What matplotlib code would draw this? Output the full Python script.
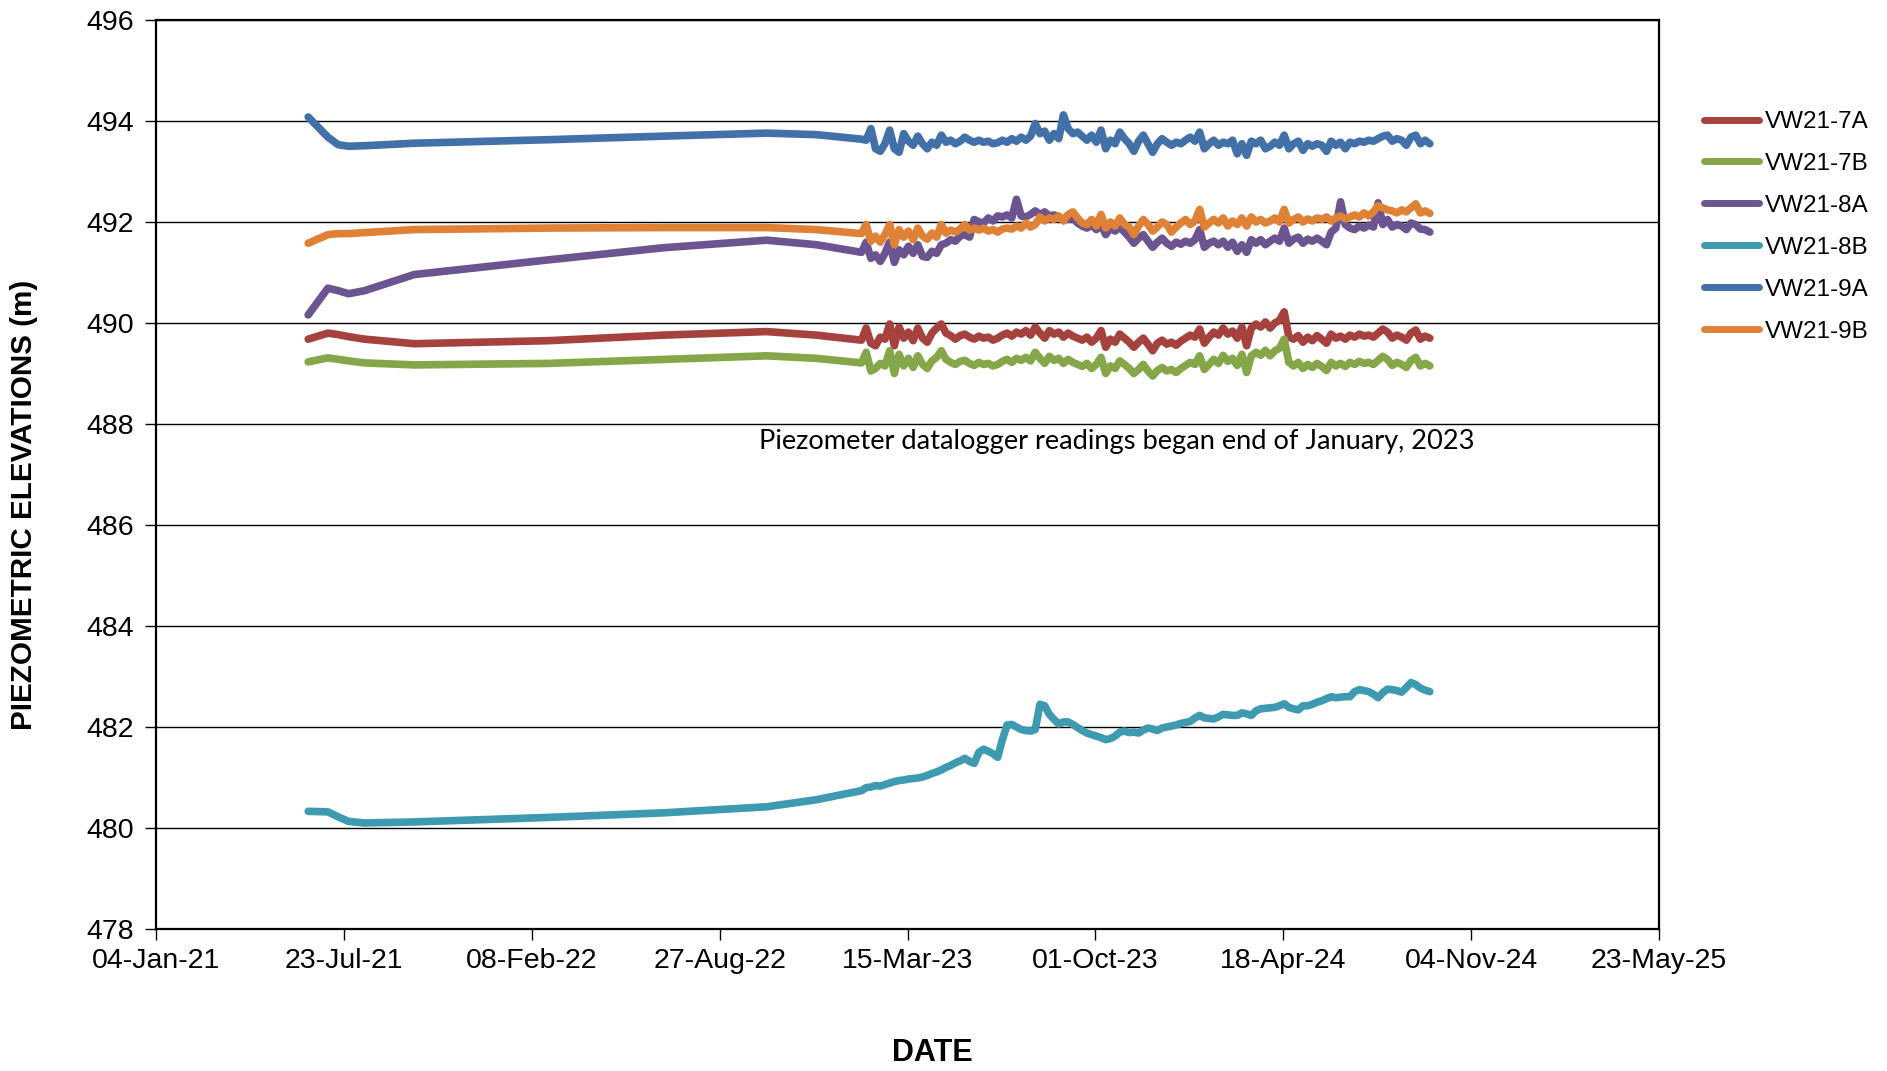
import numpy as np
import pandas as pd
import matplotlib
matplotlib.use("Agg")
import matplotlib.pyplot as plt
import matplotlib.dates as mdates

plt.rcParams['font.family'] = ['Liberation Sans', 'DejaVu Sans']

# ---- data ----
series_names = ["VW21-7A", "VW21-7B", "VW21-8A", "VW21-8B", "VW21-9A", "VW21-9B"]
series_colors = ["#A6423E", "#86A64A", "#6B548F", "#3E9AB1", "#4270A8", "#DF8236"]

# manual readings (before datalogger)
manual_dates = ['2021-06-15', '2021-07-06', '2021-07-17', '2021-07-28', '2021-08-14', '2021-10-06',
                '2022-02-26', '2022-06-28', '2022-10-16', '2022-12-08', '2023-01-25']
manual_7A = [489.68, 489.80, 489.77, 489.73, 489.68, 489.59, 489.65, 489.76, 489.83, 489.76, 489.66]
manual_7B = [489.23, 489.31, 489.28, 489.25, 489.21, 489.17, 489.20, 489.28, 489.35, 489.30, 489.21]
manual_8A = [490.16, 490.69, 490.64, 490.58, 490.64, 490.96, 491.25, 491.49, 491.64, 491.55, 491.40]
manual_8B = [480.33, 480.32, 480.22, 480.13, 480.10, 480.12, 480.21, 480.30, 480.42, 480.56, 480.74]
manual_9A = [494.08, 493.68, 493.53, 493.50, 493.51, 493.56, 493.63, 493.70, 493.76, 493.73, 493.64]
manual_9B = [491.58, 491.75, 491.77, 491.77, 491.79, 491.85, 491.88, 491.89, 491.89, 491.85, 491.77]

# datalogger readings, every 5 days from 2023-01-30 to 2024-09-21
logger_start = '2023-01-30'
logger_step_days = 5

logger_7A = [489.90, 489.60, 489.55, 489.72, 489.68, 489.98, 489.55, 489.92, 489.70, 489.82,
             489.65, 489.90, 489.70, 489.62, 489.80, 489.90, 489.98, 489.80, 489.75, 489.68,
             489.75, 489.78, 489.72, 489.68, 489.74, 489.70, 489.72, 489.66, 489.70, 489.76,
             489.80, 489.74, 489.82, 489.78, 489.85, 489.76, 489.92, 489.80, 489.70, 489.85,
             489.78, 489.82, 489.72, 489.80, 489.74, 489.70, 489.66, 489.72, 489.62, 489.70,
             489.85, 489.52, 489.68, 489.62, 489.78, 489.70, 489.62, 489.52, 489.62, 489.70,
             489.58, 489.45, 489.60, 489.66, 489.58, 489.62, 489.56, 489.64, 489.70, 489.76,
             489.72, 489.88, 489.60, 489.72, 489.82, 489.76, 489.90, 489.78, 489.84, 489.70,
             489.92, 489.55, 489.90, 489.98, 489.92, 490.02, 489.90, 490.00, 490.05, 490.22,
             489.72, 489.68, 489.75, 489.62, 489.72, 489.65, 489.75, 489.68, 489.60, 489.78,
             489.70, 489.74, 489.68, 489.76, 489.72, 489.78, 489.74, 489.76, 489.72, 489.80,
             489.88, 489.82, 489.70, 489.76, 489.72, 489.66, 489.80, 489.86, 489.68, 489.74,
             489.70]
logger_7B = [489.42, 489.05, 489.10, 489.20, 489.15, 489.45, 489.00, 489.38, 489.15, 489.30,
             489.12, 489.35, 489.18, 489.10, 489.25, 489.32, 489.45, 489.28, 489.22, 489.18,
             489.24, 489.26, 489.20, 489.16, 489.22, 489.18, 489.20, 489.15, 489.18, 489.24,
             489.28, 489.22, 489.30, 489.26, 489.32, 489.25, 489.42, 489.30, 489.20, 489.34,
             489.26, 489.30, 489.20, 489.28, 489.22, 489.18, 489.14, 489.20, 489.10, 489.18,
             489.32, 489.00, 489.15, 489.10, 489.25, 489.18, 489.10, 489.00, 489.08, 489.18,
             489.05, 488.95, 489.06, 489.12, 489.05, 489.08, 489.02, 489.10, 489.16, 489.22,
             489.18, 489.35, 489.08, 489.18, 489.28, 489.20, 489.36, 489.24, 489.30, 489.16,
             489.38, 489.02, 489.35, 489.42, 489.36, 489.46, 489.35, 489.45, 489.50, 489.68,
             489.22, 489.15, 489.22, 489.10, 489.18, 489.12, 489.20, 489.14, 489.06, 489.22,
             489.15, 489.20, 489.14, 489.22, 489.18, 489.24, 489.20, 489.22, 489.18, 489.26,
             489.34, 489.28, 489.16, 489.22, 489.18, 489.12, 489.26, 489.32, 489.15, 489.20,
             489.15]
logger_8A = [491.60, 491.28, 491.35, 491.22, 491.38, 491.60, 491.20, 491.45, 491.35, 491.52,
             491.38, 491.55, 491.32, 491.30, 491.42, 491.38, 491.55, 491.58, 491.65, 491.62,
             491.72, 491.75, 491.70, 492.05, 492.00, 491.98, 492.08, 492.02, 492.12, 492.10,
             492.14, 492.08, 492.45, 492.12, 492.10, 492.15, 492.22, 492.15, 492.20, 492.12,
             492.14, 492.10, 492.06, 492.05, 492.08, 491.98, 491.92, 491.88, 491.94, 491.85,
             491.95, 491.75, 491.88, 491.82, 491.90, 491.80, 491.70, 491.58, 491.68, 491.75,
             491.62, 491.50, 491.60, 491.68, 491.58, 491.52, 491.60, 491.56, 491.62, 491.58,
             491.65, 491.85, 491.50, 491.58, 491.62, 491.55, 491.62, 491.50, 491.60, 491.42,
             491.55, 491.40, 491.65, 491.58, 491.65, 491.55, 491.62, 491.68, 491.62, 491.88,
             491.58, 491.66, 491.70, 491.58, 491.66, 491.62, 491.68, 491.62, 491.55, 491.80,
             491.88, 492.40, 491.95, 491.88, 491.85, 491.92, 491.88, 491.94, 491.90, 492.38,
             491.95, 492.05, 491.90, 491.95, 491.92, 491.85, 491.98, 491.95, 491.86, 491.85,
             491.80]
logger_8B = [480.80, 480.81, 480.84, 480.83, 480.86, 480.89, 480.92, 480.94, 480.95, 480.97,
             480.98, 480.99, 481.01, 481.04, 481.08, 481.11, 481.15, 481.20, 481.24, 481.29,
             481.33, 481.38, 481.32, 481.28, 481.50, 481.56, 481.52, 481.47, 481.40, 481.75,
             482.04, 482.05, 482.00, 481.95, 481.93, 481.92, 481.95, 482.45, 482.42, 482.25,
             482.15, 482.06, 482.10, 482.10, 482.05, 481.99, 481.93, 481.88, 481.85, 481.82,
             481.79, 481.75, 481.77, 481.82, 481.90, 481.92, 481.89, 481.90, 481.88, 481.94,
             481.98, 481.96, 481.93, 481.98, 482.00, 482.02, 482.04, 482.07, 482.09, 482.11,
             482.18, 482.23, 482.18, 482.17, 482.16, 482.20, 482.25, 482.24, 482.23, 482.23,
             482.28, 482.26, 482.23, 482.32, 482.36, 482.37, 482.38, 482.39, 482.42, 482.46,
             482.39, 482.36, 482.34, 482.42, 482.42, 482.45, 482.49, 482.52, 482.56, 482.60,
             482.58, 482.59, 482.60, 482.60, 482.70, 482.74, 482.72, 482.70, 482.65, 482.58,
             482.68, 482.75, 482.74, 482.72, 482.69, 482.78, 482.88, 482.84, 482.77, 482.73,
             482.70]
logger_9A = [493.62, 493.85, 493.45, 493.40, 493.55, 493.82, 493.45, 493.38, 493.75, 493.60,
             493.52, 493.70, 493.55, 493.45, 493.58, 493.52, 493.72, 493.58, 493.62, 493.55,
             493.60, 493.68, 493.62, 493.58, 493.62, 493.58, 493.60, 493.55, 493.57, 493.62,
             493.58, 493.65, 493.60, 493.68, 493.62, 493.70, 493.95, 493.75, 493.80, 493.62,
             493.75, 493.65, 494.12, 493.85, 493.75, 493.78, 493.70, 493.62, 493.72, 493.58,
             493.82, 493.45, 493.62, 493.55, 493.78, 493.65, 493.55, 493.40, 493.60, 493.72,
             493.55, 493.38, 493.55, 493.65, 493.58, 493.52, 493.58, 493.55, 493.62, 493.68,
             493.60, 493.78, 493.45, 493.55, 493.62, 493.52, 493.58, 493.55, 493.62, 493.35,
             493.55, 493.32, 493.60, 493.55, 493.62, 493.45, 493.50, 493.58, 493.52, 493.72,
             493.45, 493.55, 493.60, 493.42, 493.55, 493.50, 493.55, 493.52, 493.40, 493.60,
             493.52, 493.58, 493.45, 493.58, 493.55, 493.60, 493.58, 493.62, 493.60, 493.65,
             493.70, 493.72, 493.60, 493.65, 493.62, 493.52, 493.68, 493.72, 493.55, 493.62,
             493.55]
logger_9B = [491.95, 491.62, 491.72, 491.60, 491.75, 491.95, 491.55, 491.85, 491.70, 491.82,
             491.65, 491.88, 491.72, 491.66, 491.78, 491.70, 491.95, 491.78, 491.84, 491.80,
             491.86, 491.95, 491.84, 491.88, 491.84, 491.88, 491.82, 491.85, 491.80, 491.86,
             491.88, 491.86, 491.92, 491.88, 491.98, 491.90, 491.95, 492.10, 492.02, 492.08,
             492.05, 492.12, 492.02, 492.15, 492.20, 492.08, 491.98, 491.95, 492.05, 491.92,
             492.15, 491.88, 492.00, 491.92, 492.08, 491.95, 491.90, 491.75, 491.92, 492.05,
             491.95, 491.82, 491.90, 492.00, 491.95, 491.80, 491.90, 491.98, 492.05, 491.95,
             492.02, 492.25, 491.90, 491.98, 492.05, 491.98, 492.08, 491.92, 492.02, 491.95,
             492.08, 491.92, 492.10, 492.00, 492.05, 491.98, 492.02, 492.08, 492.00, 492.25,
             491.98, 492.05, 492.10, 492.00, 492.06, 492.02, 492.08, 492.05, 492.10, 492.02,
             492.08, 492.12, 492.06, 492.10, 492.14, 492.10, 492.18, 492.12, 492.20, 492.32,
             492.28, 492.24, 492.22, 492.18, 492.24, 492.20, 492.28, 492.36, 492.18, 492.22,
             492.17]

x_ticks = ['2021-01-04', '2021-07-23', '2022-02-08', '2022-08-27', '2023-03-15',
           '2023-10-01', '2024-04-18', '2024-11-04', '2025-05-23']
y_ticks = [478, 480, 482, 484, 486, 488, 490, 492, 494, 496]
annotation = "Piezometer datalogger readings began end of January, 2023"

manual = [manual_7A, manual_7B, manual_8A, manual_8B, manual_9A, manual_9B]
logger = [logger_7A, logger_7B, logger_8A, logger_8B, logger_9A, logger_9B]

# ---- figure ----
W, H = 1887, 1071
fig = plt.figure(figsize=(W / 100, H / 100), dpi=100)
ax = fig.add_axes([156 / W, 1 - 929 / H, (1659 - 156) / W, (929 - 20) / H])

mdates_manual = pd.to_datetime(manual_dates)
for name, col, m, lg in zip(series_names, series_colors, manual, logger):
    ldates = pd.date_range(logger_start, periods=len(lg), freq=f'{logger_step_days}D')
    d = list(mdates_manual) + list(ldates)
    v = list(m) + list(lg)
    ax.plot(d, v, color=col, lw=5.5, label=name, solid_joinstyle='round',
            solid_capstyle='round', zorder=3)

xt = pd.to_datetime(x_ticks)
ax.set_xlim(xt[0], xt[-1])
ax.set_xticks(xt)
ax.xaxis.set_major_formatter(mdates.DateFormatter('%d-%b-%y'))
ax.set_ylim(478, 496)
ax.set_yticks(y_ticks)
ax.yaxis.grid(True, color='black', lw=1.0)
ax.set_axisbelow(True)
ax.tick_params(axis='both', labelsize=20.5, length=8, width=1, direction='out')
ax.tick_params(axis='x', pad=6)
ax.tick_params(axis='y', pad=8)
for s in ax.spines.values():
    s.set_linewidth(1.6)
    s.set_color('black')

ax.text(pd.Timestamp('2022-10-08'), 487.65, annotation, fontsize=19.6,
        family=['Lato', 'DejaVu Sans'], ha='left', va='center', zorder=4)

fig.text(24 / W, 1 - 505 / H, "PIEZOMETRIC ELEVATIONS (m)", rotation=90, fontsize=21.3,
         fontweight='bold', ha='center', va='center')
fig.text(932 / W, 1 - 1053 / H, "DATE", fontsize=22, fontweight='bold',
         ha='center', va='center')

leg = fig.legend(loc='upper left', bbox_to_anchor=(1704 / W, 1 - 111 / H), frameon=False,
                 fontsize=17.5, handlelength=2.25, handletextpad=0.25, labelspacing=0.82,
                 borderpad=0, borderaxespad=0)
for l in leg.get_lines():
    l.set_linewidth(5)
    l.set_solid_capstyle('round')

fig.savefig("out.png", dpi=100)
